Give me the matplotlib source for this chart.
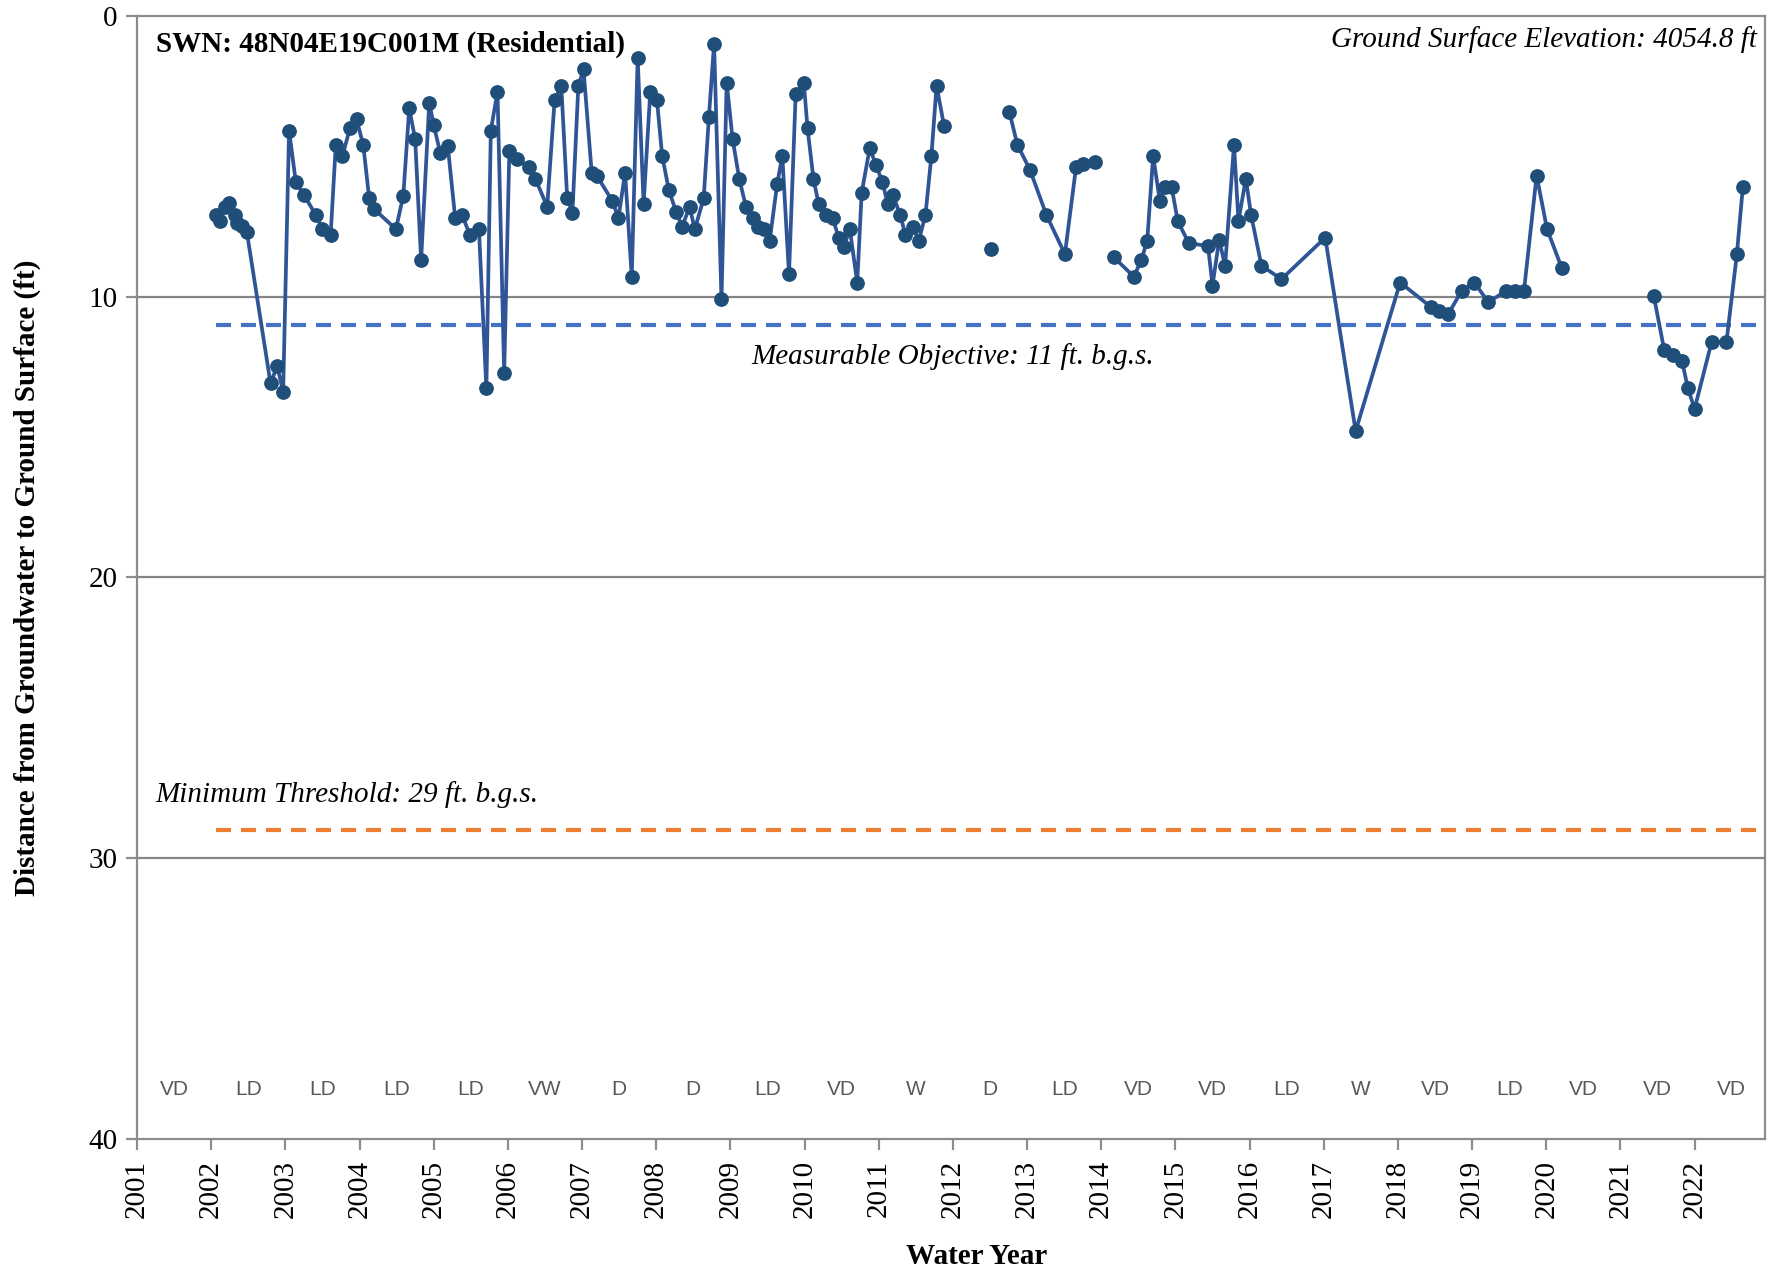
import numpy as np
import matplotlib
matplotlib.use("Agg")
import matplotlib.pyplot as plt

# ---- data (decimal water-year dates, depth to water in ft) ----
dates = [
    2002.07, 2002.12, 2002.18, 2002.24, 2002.32, 2002.35, 2002.42, 2002.48, 2002.80, 2002.89,
    2002.97, 2003.05, 2003.14, 2003.25, 2003.41, 2003.50, 2003.61, 2003.68, 2003.77, 2003.87,
    2003.96, 2004.05, 2004.13, 2004.20, 2004.49, 2004.59, 2004.67, 2004.75, 2004.83, 2004.94,
    2005.00, 2005.09, 2005.19, 2005.29, 2005.38, 2005.49, 2005.61, 2005.71, 2005.77, 2005.86,
    2005.95, 2006.02, 2006.12, 2006.29, 2006.37, 2006.53, 2006.63, 2006.72, 2006.80, 2006.87,
    2006.95, 2007.02, 2007.13, 2007.20, 2007.41, 2007.49, 2007.58, 2007.67, 2007.75, 2007.83,
    2007.92, 2008.01, 2008.08, 2008.17, 2008.27, 2008.35, 2008.45, 2008.52, 2008.64, 2008.71,
    2008.78, 2008.88, 2008.95, 2009.03, 2009.12, 2009.21, 2009.30, 2009.37, 2009.45, 2009.53,
    2009.63, 2009.70, 2009.79, 2009.88, 2009.99, 2010.04, 2010.12, 2010.19, 2010.29, 2010.38,
    2010.46, 2010.53, 2010.61, 2010.71, 2010.77, 2010.88, 2010.96, 2011.05, 2011.12, 2011.19,
    2011.29, 2011.36, 2011.46, 2011.54, 2011.63, 2011.71, 2011.78, 2011.88, np.nan, 2012.51,
    np.nan, 2012.76, 2012.87, 2013.04, 2013.26, 2013.51, 2013.66, 2013.76, 2013.91, np.nan,
    2014.17, 2014.44, 2014.54, 2014.62, 2014.70, 2014.79, 2014.86, 2014.95, 2015.03, 2015.18,
    2015.44, 2015.50, 2015.59, 2015.67, 2015.79, 2015.85, 2015.95, 2016.02, 2016.16, 2016.43,
    2017.02, 2017.43, 2018.03, 2018.45, 2018.55, 2018.68, 2018.86, 2019.03, 2019.22, 2019.46,
    2019.58, 2019.70, 2019.87, 2020.01, 2020.21, np.nan, 2021.45, 2021.59, 2021.71, 2021.83,
    2021.91, 2022.00, 2022.23, 2022.43, 2022.57, 2022.65,
]
depth = [
    7.09, 7.30, 6.82, 6.68, 7.09, 7.39, 7.49, 7.69, 13.09, 12.47,
    13.39, 4.09, 5.91, 6.38, 7.09, 7.60, 7.81, 4.60, 4.99, 4.01,
    3.69, 4.60, 6.50, 6.89, 7.60, 6.41, 3.29, 4.40, 8.70, 3.09,
    3.89, 4.90, 4.64, 7.21, 7.09, 7.81, 7.60, 13.27, 4.09, 2.70,
    12.71, 4.80, 5.09, 5.40, 5.80, 6.80, 3.00, 2.50, 6.50, 7.01,
    2.50, 1.91, 5.59, 5.70, 6.60, 7.21, 5.59, 9.29, 1.51, 6.70,
    2.70, 3.00, 4.99, 6.20, 7.00, 7.51, 6.80, 7.60, 6.50, 3.61,
    1.00, 10.10, 2.38, 4.40, 5.81, 6.80, 7.21, 7.51, 7.60, 8.01,
    6.00, 4.99, 9.21, 2.80, 2.38, 4.01, 5.81, 6.70, 7.09, 7.21,
    7.90, 8.22, 7.60, 9.50, 6.30, 4.70, 5.31, 5.91, 6.70, 6.38,
    7.09, 7.81, 7.51, 8.01, 7.09, 4.99, 2.50, 3.91, np.nan, 8.30,
    np.nan, 3.41, 4.60, 5.49, 7.09, 8.49, 5.40, 5.29, 5.19, np.nan,
    8.60, 9.29, 8.70, 8.01, 4.99, 6.60, 6.11, 6.11, 7.30, 8.10,
    8.20, 9.61, 7.98, 8.90, 4.60, 7.30, 5.81, 7.09, 8.90, 9.38,
    7.90, 14.79, 9.50, 10.38, 10.51, 10.62, 9.79, 9.50, 10.20, 9.79,
    9.79, 9.79, 5.69, 7.59, 8.99, np.nan, 9.98, 11.90, 12.08, 12.29,
    13.27, 14.00, 11.61, 11.61, 8.49, 6.11,
]

years = list(range(2001, 2023))
wy_types = ["VD", "LD", "LD", "LD", "LD", "VW", "D", "D", "LD", "VD", "W",
            "D", "LD", "VD", "VD", "LD", "W", "VD", "LD", "VD", "VD", "VD"]

measurable_objective = 11
minimum_threshold = 29
threshold_start = 2002.06

title_text = "SWN: 48N04E19C001M (Residential)"
gse_text = "Ground Surface Elevation: 4054.8 ft"
mo_text = "Measurable Objective: 11 ft. b.g.s."
mt_text = "Minimum Threshold: 29 ft. b.g.s."

# ---- figure ----
serif = ["Liberation Serif", "DejaVu Serif"]
fig = plt.figure(figsize=(17.75, 12.72), dpi=100)
ax = fig.add_axes([0.0772, 0.1046, 0.9172, 0.883])

xmin, xmax = 2001, 2022.95
ax.set_xlim(xmin, xmax)
ax.set_ylim(40, 0)

grid_c = "#858585"
for g in (10, 20, 30):
    ax.axhline(g, color=grid_c, lw=1.6, zorder=1)

ax.plot([threshold_start, xmax], [measurable_objective] * 2, color="#4472C4",
        lw=3.0, ls=(0, (3.6, 2.4)), zorder=2, clip_on=False)
ax.plot([threshold_start, xmax], [minimum_threshold] * 2, color="#ED7D31",
        lw=3.0, ls=(0, (3.6, 2.4)), zorder=2, clip_on=False)

ax.plot(dates, depth, color="#2F5597", lw=2.7, marker="o", ms=9.6,
        mfc="#1F4E79", mec="#1F4E79", zorder=3)

for s in ax.spines.values():
    s.set_color("#8C8C8C")
    s.set_linewidth(1.6)

ax.set_xticks(years)
ax.set_xticklabels([str(y) for y in years], rotation=90, family=serif, fontsize=21)
ax.set_yticks([0, 10, 20, 30, 40])
ax.set_yticklabels(["0", "10", "20", "30", "40"], family=serif, fontsize=21)
ax.tick_params(axis="both", direction="out", length=8, width=1.6, color="#8C8C8C", pad=6)
ax.tick_params(axis="x", pad=7)

ax.set_xlabel("Water Year", family=serif, fontsize=21, fontweight="bold", labelpad=18)
ax.xaxis.label.set_x(0.516)
ax.set_ylabel("Distance from Groundwater to Ground Surface (ft)", family=serif,
              fontsize=21, fontweight="bold", labelpad=34)

for y, t in zip(years, wy_types):
    ax.text(y + 0.5, 38.25, t, ha="center", va="center", fontsize=15,
            family=["Liberation Sans", "DejaVu Sans"], color="#595959")

ax.text(2001.25, 1.0, title_text, ha="left", va="center", family=serif,
        fontsize=21, fontweight="bold")
ax.text(2022.84, 0.86, gse_text, ha="right", va="center", family=serif,
        fontsize=21, style="italic")
ax.text(2012.0, 12.15, mo_text, ha="center", va="center", family=serif,
        fontsize=21, style="italic")
ax.text(2001.25, 27.75, mt_text, ha="left", va="center", family=serif,
        fontsize=21, style="italic")

fig.savefig("out.png", dpi=100)
